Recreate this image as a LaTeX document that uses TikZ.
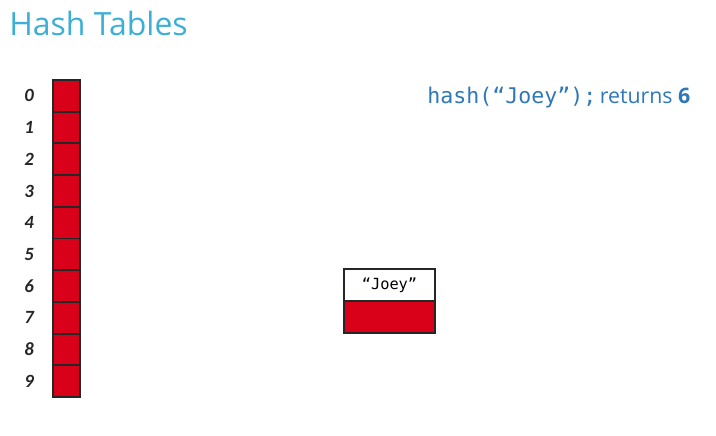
\documentclass[tikz,border=0pt]{standalone}
\usepackage{fontspec}
\setmainfont{Open Sans}
\newfontfamily\labelfont{Carlito}
\newfontfamily\codefont{DejaVu Sans Mono}
\definecolor{titlecyan}{HTML}{3BAFD6}
\definecolor{codeblue}{HTML}{2E78B8}
\definecolor{cellred}{HTML}{D9001A}
\begin{document}
\begin{tikzpicture}[x=0.75pt,y=-0.75pt,
  cell/.style={draw=black!85,line width=1.4pt,fill=cellred},
  idx/.style={font=\labelfont\bfseries\itshape\fontsize{14}{15}\selectfont,text=black!85,anchor=center}]
\useasboundingbox (0,0) rectangle (716,435);
% title
\node[anchor=base west,inner sep=0pt,text=titlecyan,font=\fontsize{24}{28}\selectfont] (title) at (9,36) {Hash Tables};
% array of ten buckets with index labels
\foreach \i in {0,...,9}{
  \pgfmathsetmacro{\top}{80+31.7*\i}
  \draw[cell] (53,\top) rectangle (80,\top+31.7);
  \node[idx] (lbl\i) at (29,\top+15.85) {\i};
}
% hash call
\node[anchor=base west,inner sep=0pt,text=codeblue] (call) at (427,103)
  {{\codefont\fontsize{16.2}{19}\selectfont hash(“Joey”);} {\fontsize{16}{18}\selectfont returns \textbf{6}}};
% entry box: key on top, value below
\draw[cell,fill=white] (344,269) rectangle (435,301);
\draw[cell] (344,301) rectangle (435,333);
\node[font=\codefont\fontsize{11.5}{13}\selectfont,inner sep=0pt] (key) at (389.5,285) {“Joey”};
\coordinate (val) at (389.5,317);
\end{tikzpicture}
\end{document}
